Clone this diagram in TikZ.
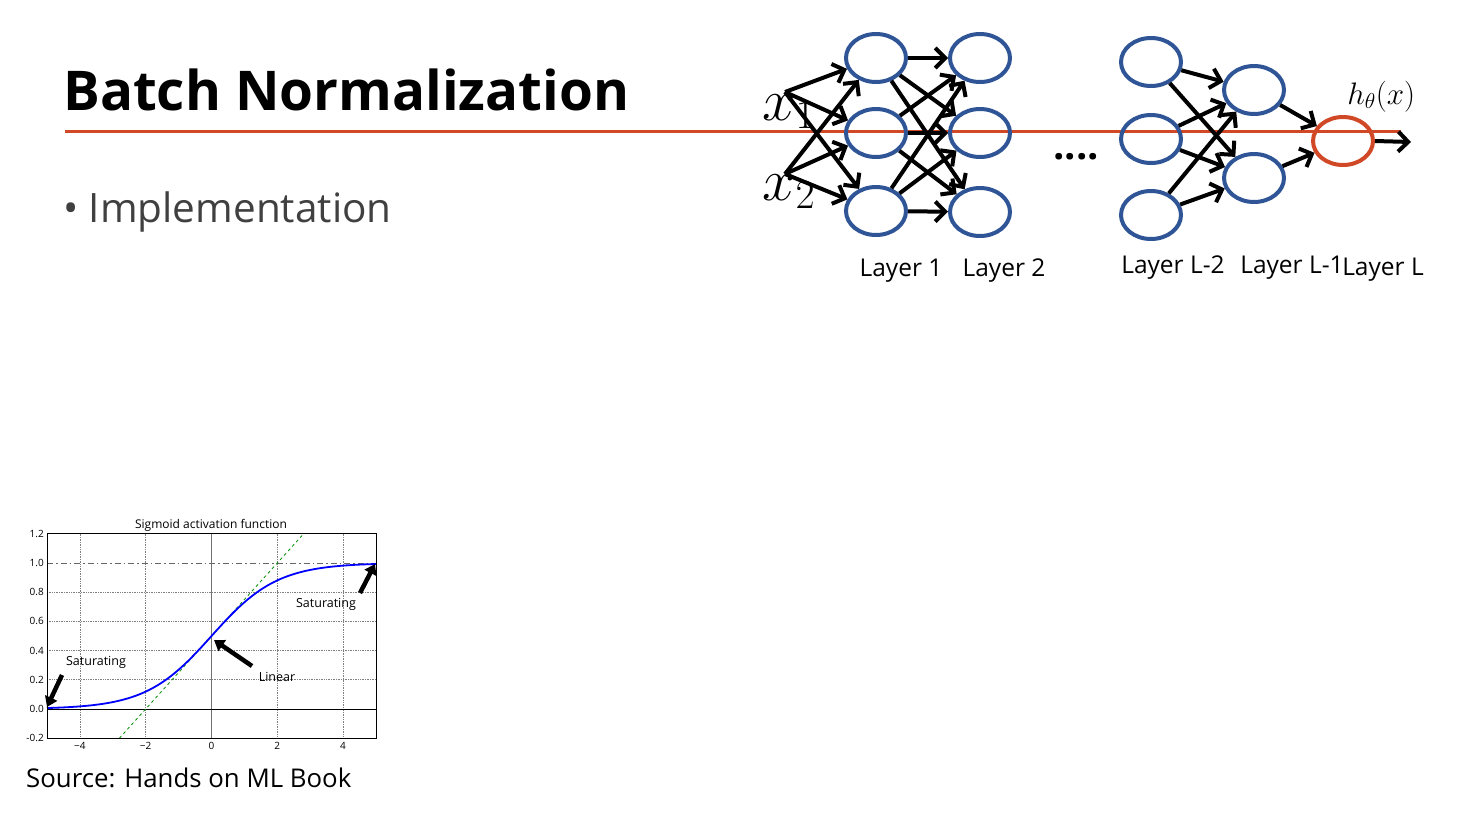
\documentclass[tikz,border=0pt]{standalone}
\usepackage{fontspec}
\setmainfont{Open Sans}
\usetikzlibrary{shapes.geometric,arrows.meta}
\definecolor{accred}{RGB}{209,72,38}
\definecolor{neublue}{RGB}{47,85,151}
\definecolor{txtgray}{RGB}{64,64,64}
\begin{document}
\begin{tikzpicture}[x=1pt,y=-1pt,
  neuron/.style={ellipse, draw=neublue, line width=4pt, minimum width=60pt, minimum height=48pt, inner sep=0pt},
  outneuron/.style={neuron, draw=accred},
  conn/.style={line width=4pt, -{Straight Barb[length=10pt,width=20pt]}},
  fatarrow/.style={line width=4.5pt, -{Triangle[length=10pt,width=13pt]}},
  layerlbl/.style={anchor=base, font=\fontsize{24.5}{28}\selectfont, inner sep=0pt},
  ticklbl/.style={font=\fontsize{10}{12}\selectfont, inner sep=0pt},
  annot/.style={font=\fontsize{12.5}{14}\selectfont, inner sep=0pt},
  mathlbl/.style={anchor=base west, inner sep=0pt, font=\fontsize{24}{24}\selectfont, transform shape}]
\fill[white] (0,0) rectangle (1467,825);
\useasboundingbox (0,0) rectangle (1467,825);

% title and rule
\node[anchor=base west, inner sep=0pt, font=\fontsize{54.8}{66}\selectfont\bfseries] (title) at (63,110) {Batch Normalization};
\coordinate (rl1) at (65,131);
\coordinate (rl2) at (1401,131);
\draw[accred, line width=3pt] (rl1) -- (rl2);

\node[anchor=base west, inner sep=0pt, text=txtgray, font=\fontsize{40.5}{48}\selectfont] (bullet) at (63,222) {\textbullet\ Implementation};

% network
\node[neuron] (a1) at (876,58) {};
\node[neuron] (a2) at (876,133) {};
\node[neuron] (a3) at (876,211) {};
\node[neuron] (b1) at (980,58) {};
\node[neuron] (b2) at (980,133) {};
\node[neuron] (b3) at (980,212) {};
\node[neuron] (c1) at (1151,62) {};
\node[neuron] (c2) at (1151,139) {};
\node[neuron] (c3) at (1151,215) {};
\node[neuron] (d1) at (1254,90) {};
\node[neuron] (d2) at (1254,178) {};
\node[outneuron] (o) at (1343,141) {};

\coordinate (x1p) at (785,92);
\coordinate (x2p) at (785,174);
\begin{scope}[shift={(762,120)}, y=1pt]
\node[mathlbl, scale=2.4] (x1l) at (0,0) {$x_1$};
\end{scope}
\begin{scope}[shift={(762,200)}, y=1pt]
\node[mathlbl, scale=2.4] (x2l) at (0,0) {$x_2$};
\end{scope}

\foreach \s in {x1p,x2p}
  \foreach \t in {a1,a2,a3}
    \draw[conn] (\s) -- (\t);
\foreach \s in {a1,a2,a3}
  \foreach \t in {b1,b2,b3}
    \draw[conn] (\s) -- (\t);
\foreach \s in {c1,c2,c3}
  \foreach \t in {d1,d2}
    \draw[conn] (\s) -- (\t);
\draw[conn] (d1) -- (o);
\draw[conn] (d2) -- (o);
\coordinate (oute) at (1411,142);
\draw[conn] (o.east) -- (oute);

\node[anchor=base, inner sep=0pt, font=\fontsize{40}{40}\selectfont\bfseries] (dots) at (1076,159) {....};
\begin{scope}[shift={(1347,104)}, y=1pt]
\node[mathlbl, scale=1.25] (hl) at (0,0) {$h_\theta(x)$};
\end{scope}

\node[layerlbl] (l1) at (901,276) {Layer 1};
\node[layerlbl] (l2) at (1004,276) {Layer 2};
\node[layerlbl] (l3) at (1173,273) {Layer L-2};
\node[layerlbl] (l4) at (1292,273) {Layer L-1};
\node[layerlbl] (l5) at (1383,275) {Layer L};

% sigmoid plot
\node[font=\fontsize{12}{14}\selectfont, inner sep=0pt] (ptitle) at (211,525) {Sigmoid activation function};
\begin{scope}[shift={(211.5,709)}, x=32.9pt, y=146pt]
  \foreach \gx in {-4,-2,2,4}
    \draw[gray, densely dotted, line width=0.7pt] (\gx,-0.2) -- (\gx,1.2);
  \foreach \gy in {0.2,0.4,0.6,0.8}
    \draw[gray, densely dotted, line width=0.7pt] (-5,\gy) -- (5,\gy);
  \draw[black!55, line width=0.9pt] (0,-0.2) -- (0,1.2);
  \draw[black, line width=0.9pt] (-5,0) -- (5,0);
  \draw[black!60, line width=0.9pt, dash pattern=on 6pt off 3pt on 1.5pt off 3pt] (-5,1) -- (5,1);
  \draw[green!55!black, dashed, line width=0.8pt] (-2.8,-0.2) -- (2.8,1.2);
  \draw[blue, line width=1.8pt] plot[domain=-5:5, samples=120, smooth] (\x,{1/(1+exp(-\x))});
  \draw[black, line width=0.8pt] (-5,-0.2) rectangle (5,1.2);
  \foreach \v/\n in {1.2/a,1.0/b,0.8/c,0.6/d,0.4/e,0.2/f,0.0/g}
    \node[ticklbl, anchor=east] (yt\n) at ([xshift=-3pt]-5,\v) {\v};
  \node[ticklbl, anchor=east] (yth) at ([xshift=-3pt]-5,-0.2) {-0.2};
  \foreach \v/\n/\t in {-4/a/−4,-2/b/−2,0/c/0,2/d/2,4/e/4}
    \node[ticklbl, anchor=north] (xt\n) at ([yshift=-4pt]\v,-0.2) {\t};
\end{scope}
\node[annot] (sat1) at (96,662) {Saturating};
\node[annot] (sat2) at (326,604) {Saturating};
\node[annot] (lin) at (277,677) {Linear};
\coordinate (saL1) at (62,675);
\coordinate (saL2) at (47,707);
\coordinate (saR1) at (360,593);
\coordinate (saR2) at (375,564);
\coordinate (lin1) at (252,666);
\coordinate (lin2) at (214,640);
\draw[fatarrow] (saL1) -- (saL2);
\draw[fatarrow] (saR1) -- (saR2);
\draw[fatarrow] (lin1) -- (lin2);

\node[anchor=base west, inner sep=0pt, font=\fontsize{25.8}{30}\selectfont] (src) at (26,787) {Source: Hands on ML Book};
\end{tikzpicture}
\end{document}
